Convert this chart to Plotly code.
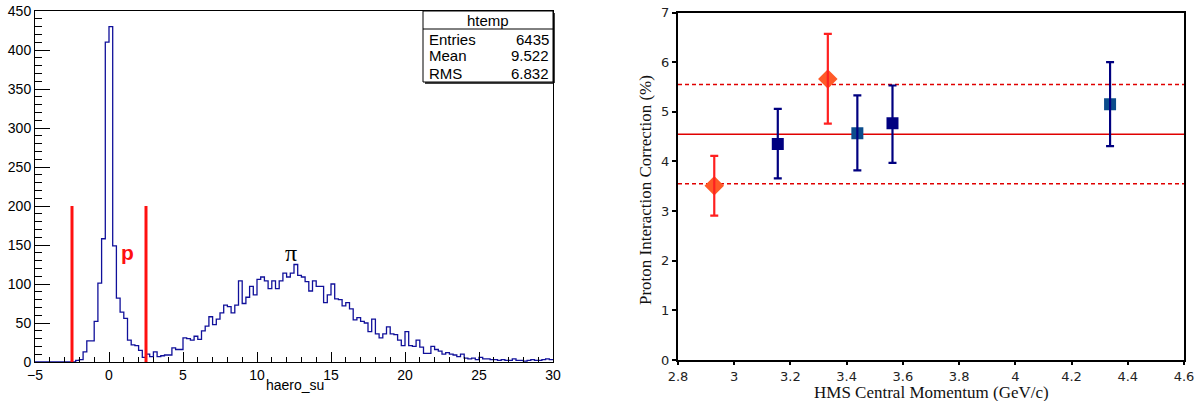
import numpy as np
import plotly.graph_objects as go

# ---------------- data: left histogram (haero_su), 0.25-wide bins from -5 to 30
bin_lo, bin_hi, bin_w = -5.0, 30.0, 0.25
counts_m5_m25 = [0] * 10
counts_m25_5 = [0, 2, 3, 13, 27, 27, 52, 101, 158, 410, 430, 149, 82, 64, 56, 28, 22, 21, 15, 6,
                10, 7, 13, 7, 8, 9, 9, 18, 16, 16]
counts_5_10 = [31, 30, 28, 33, 29, 40, 46, 58, 48, 55, 63, 73, 71, 63, 73, 104, 75, 83, 97, 86]
counts_10_15 = [106, 109, 104, 94, 104, 94, 104, 114, 109, 114, 125, 111, 109, 103, 91, 104, 97, 97, 76, 86]
counts_15_20 = [100, 81, 80, 72, 76, 68, 54, 57, 52, 50, 39, 55, 36, 31, 36, 45, 36, 35, 28, 21]
counts_20_25 = [39, 21, 20, 28, 19, 11, 11, 20, 16, 14, 10, 12, 10, 9, 7, 10, 5, 4, 5, 3]
counts_25_30 = [6, 4, 4, 3, 3, 2, 3, 2, 2, 4, 2, 2, 1, 2, 3, 2, 2, 3, 4, 3]
counts = (counts_m5_m25 + counts_m25_5 + counts_5_10 + counts_10_15 +
          counts_15_20 + counts_20_25 + counts_25_30)

cut_positions = [-2.5, 2.5]
cut_height = 200

stats_title = "htemp"
stats_names = ["Entries", "Mean", "RMS"]
stats_values = ["6435", "9.522", "6.832"]

# ---------------- data: right plot
p_red = [2.929, 3.333]
v_red = [3.51, 5.66]
err_red_plus = [0.60, 0.91]
err_red_minus = [0.60, 0.90]

p_blue = [3.155, 3.438, 3.563, 4.337]
v_blue = [4.35, 4.57, 4.77, 5.15]
err_blue_plus = [0.71, 0.76, 0.76, 0.85]
err_blue_minus = [0.69, 0.75, 0.80, 0.84]
blue_fill = ["#000080", "#0b4c8c", "#000080", "#0b4c8c"]

mean_corr = 4.55
band_half = 1.0

# the page body margin is removed (post_script), so the figure fills the window
W, H = 1199, 401


def fx(p):
    return p / W


def fy(p):
    return 1 - p / H


edges = bin_lo + bin_w * np.arange(len(counts) + 1)
step_y = list(counts) + [counts[-1]]

fig = go.Figure()

# histogram
fig.add_trace(go.Scatter(x=edges, y=step_y, mode="lines", line_shape="hv",
                         line=dict(color="#10109a", width=1.3),
                         xaxis="x", yaxis="y", showlegend=False, hoverinfo="skip"))

# cut lines
for c in cut_positions:
    fig.add_trace(go.Scatter(x=[c, c], y=[0, cut_height], mode="lines",
                             line=dict(color="#ff1010", width=3),
                             xaxis="x", yaxis="y", showlegend=False, hoverinfo="skip"))

# right plot: horizontal lines
xr = [2.8, 4.6]
fig.add_trace(go.Scatter(x=xr, y=[mean_corr, mean_corr], mode="lines",
                         line=dict(color="#e00000", width=1.5),
                         xaxis="x2", yaxis="y2", showlegend=False, hoverinfo="skip"))
for s in (1, -1):
    fig.add_trace(go.Scatter(x=xr, y=[mean_corr + s * band_half] * 2, mode="lines",
                             line=dict(color="#e00000", width=1.5, dash="4px,3px"),
                             xaxis="x2", yaxis="y2", showlegend=False, hoverinfo="skip"))

# markers
fig.add_trace(go.Scatter(x=p_blue, y=v_blue, mode="markers",
                         marker=dict(symbol="square", size=12, color=blue_fill, line=dict(width=0)),
                         xaxis="x2", yaxis="y2", showlegend=False))
fig.add_trace(go.Scatter(x=p_red, y=v_red, mode="markers",
                         marker=dict(symbol="diamond", size=15, color="#ff5a28", line=dict(width=0)),
                         xaxis="x2", yaxis="y2", showlegend=False))
# error bars drawn on top
fig.add_trace(go.Scatter(x=p_blue, y=v_blue, mode="markers",
                         marker=dict(size=1, color="rgba(0,0,0,0)"),
                         error_y=dict(type="data", array=err_blue_plus, arrayminus=err_blue_minus,
                                      color="#000080", thickness=2.2, width=4),
                         xaxis="x2", yaxis="y2", showlegend=False))
fig.add_trace(go.Scatter(x=p_red, y=v_red, mode="markers",
                         marker=dict(size=1, color="rgba(0,0,0,0)"),
                         error_y=dict(type="data", array=err_red_plus, arrayminus=err_red_minus,
                                      color="#ff2020", thickness=2.2, width=4),
                         xaxis="x2", yaxis="y2", showlegend=False))

left_font = dict(family="Liberation Sans, Arial, sans-serif", size=14, color="black")
right_font = dict(family="DejaVu Sans, sans-serif", size=13, color="#222222")
serif = "Liberation Serif, Times New Roman, serif"

shapes = []
annotations = []

# stats box
bx0, bx1, by0, by1, bhl = 423, 553, 11, 82, 29
shapes.append(dict(type="rect", xref="paper", yref="paper", x0=fx(bx0), x1=fx(bx1),
                   y0=fy(by1), y1=fy(by0), line=dict(color="black", width=1), fillcolor="white"))
shapes.append(dict(type="line", xref="paper", yref="paper", x0=fx(bx0), x1=fx(bx1),
                   y0=fy(bhl), y1=fy(bhl), line=dict(color="black", width=1)))
shapes.append(dict(type="line", xref="paper", yref="paper", x0=fx(bx1 + 1), x1=fx(bx1 + 1),
                   y0=fy(by1 + 1), y1=fy(by0 + 2), line=dict(color="black", width=1.5)))
shapes.append(dict(type="line", xref="paper", yref="paper", x0=fx(bx0 + 2), x1=fx(bx1 + 1),
                   y0=fy(by1 + 1), y1=fy(by1 + 1), line=dict(color="black", width=1.5)))
stat_font = dict(family="Liberation Sans, Arial, sans-serif", size=15, color="black")
annotations.append(dict(xref="paper", yref="paper", x=fx((bx0 + bx1) / 2), y=fy(20),
                        text=stats_title, showarrow=False, font=stat_font,
                        xanchor="center", yanchor="middle"))
for i, (n, v) in enumerate(zip(stats_names, stats_values)):
    yy = fy(39 + 17 * i)
    annotations.append(dict(xref="paper", yref="paper", x=fx(bx0 + 4), y=yy, text=n,
                            showarrow=False, font=stat_font, xanchor="left", yanchor="middle"))
    annotations.append(dict(xref="paper", yref="paper", x=fx(bx1 - 2), y=yy, text=v,
                            showarrow=False, font=stat_font, xanchor="right", yanchor="middle"))

# labels on histogram
annotations.append(dict(xref="x", yref="y", x=1.25, y=140, text="<b>p</b>", showarrow=False,
                        font=dict(family="Liberation Sans, Arial, sans-serif", size=21, color="#ff1010"),
                        xanchor="center", yanchor="middle"))
annotations.append(dict(xref="x", yref="y", x=12.3, y=140, text="π", showarrow=False,
                        font=dict(family=serif, size=24, color="black"),
                        xanchor="center", yanchor="middle"))
annotations.append(dict(xref="paper", yref="paper", x=fx(295), y=fy(385), text="haero_su",
                        showarrow=False, font=left_font, xanchor="center", yanchor="middle"))

# right axis titles
annotations.append(dict(xref="paper", yref="paper", x=fx(932), y=fy(392),
                        text="HMS Central Momentum (GeV/c)", showarrow=False,
                        font=dict(family=serif, size=17, color="#111111"),
                        xanchor="center", yanchor="middle"))
annotations.append(dict(xref="paper", yref="paper", x=fx(645), y=fy(190),
                        text="Proton Interaction Correction (%)", showarrow=False, textangle=-90,
                        font=dict(family=serif, size=17, color="#111111"),
                        xanchor="center", yanchor="middle"))

fig.update_layout(
    width=W, height=H,
    margin=dict(l=0, r=0, t=0, b=0, autoexpand=False),
    paper_bgcolor="white", plot_bgcolor="white",
    showlegend=False,
    xaxis=dict(domain=[fx(35), fx(553)], anchor="y", range=[bin_lo, bin_hi], automargin=False,
               ticklabeloverflow="allow",
               tick0=0, dtick=5, ticks="inside", ticklen=10, tickwidth=1, tickcolor="black",
               minor=dict(ticks="inside", dtick=1, ticklen=5, tickwidth=1, tickcolor="black", showgrid=False),
               showline=True, mirror=True, linecolor="black", linewidth=1,
               showgrid=False, zeroline=False, tickfont=left_font),
    yaxis=dict(domain=[fy(362), fy(11)], anchor="x", range=[0, 450], automargin=False,
               ticklabeloverflow="allow",
               tick0=0, dtick=50, ticks="inside", ticklen=15, tickwidth=1, tickcolor="black",
               minor=dict(ticks="inside", dtick=10, ticklen=7, tickwidth=1, tickcolor="black", showgrid=False),
               showline=True, mirror=True, linecolor="black", linewidth=1,
               showgrid=False, zeroline=False, tickfont=left_font),
    xaxis2=dict(domain=[fx(678), fx(1184)], anchor="y2", range=[2.8, 4.6], automargin=False,
                ticklabeloverflow="allow",
                tick0=2.8, dtick=0.2, ticks="outside", ticklen=3, tickwidth=1.5, tickcolor="black",
                showline=True, mirror=True, linecolor="black", linewidth=2,
                showgrid=False, zeroline=False, tickfont=right_font),
    yaxis2=dict(domain=[fy(360), fy(12.5)], anchor="x2", range=[0, 7], automargin=False,
                ticklabeloverflow="allow",
                tick0=0, dtick=1, ticks="outside", ticklen=4, tickwidth=1.5, tickcolor="black",
                showline=True, mirror=True, linecolor="black", linewidth=2,
                showgrid=False, zeroline=False, tickfont=right_font),
    shapes=shapes,
    annotations=annotations,
)

fig.write_html("out.html", config={"displayModeBar": False},
               post_script="document.body.style.margin='0px';document.body.style.overflow='hidden';")
